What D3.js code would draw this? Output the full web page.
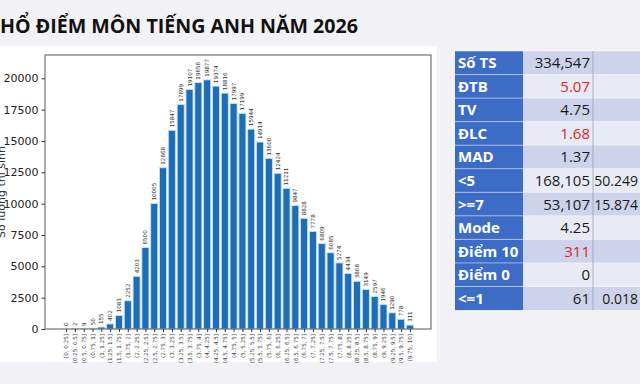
<!DOCTYPE html>
<html><head><meta charset="utf-8">
<script src="https://cdn.jsdelivr.net/npm/d3@7"></script>
<style>
html,body{margin:0;padding:0;background:#f2f1f5;}
svg{display:block;}
</style></head>
<body>
<svg id="c" width="640" height="384"></svg>
<script>
const titleText = "HỔ ĐIỂM MÔN TIẾNG ANH NĂM 2026";
const yLabel = "Số lượng thí sinh";
const bins = ["[0, 0.25]","(0.25, 0.5]","(0.5, 0.75]","(0.75, 1]","(1, 1.25]","(1.25, 1.5]","(1.5, 1.75]","(1.75, 2]","(2, 2.25]","(2.25, 2.5]","(2.5, 2.75]","(2.75, 3]","(3, 3.25]","(3.25, 3.5]","(3.5, 3.75]","(3.75, 4]","(4, 4.25]","(4.25, 4.5]","(4.5, 4.75]","(4.75, 5]","(5, 5.25]","(5.25, 5.5]","(5.5, 5.75]","(5.75, 6]","(6, 6.25]","(6.25, 6.5]","(6.5, 6.75]","(6.75, 7]","(7, 7.25]","(7.25, 7.5]","(7.5, 7.75]","(7.75, 8]","(8, 8.25]","(8.25, 8.5]","(8.5, 8.75]","(8.75, 9]","(9, 9.25]","(9.25, 9.5]","(9.5, 9.75]","(9.75, 10]"];
const counts = [0,2,9,50,155,402,1083,2252,4203,6500,10005,12868,15847,17899,19107,19656,19877,19374,18816,17997,17199,15944,14914,13600,12424,11211,9847,8828,7778,6809,6085,5274,4434,3808,3149,2597,1946,1290,778,311];
const yTicks = [0,2500,5000,7500,10000,12500,15000,17500,20000];
const tableLabels = ["Số TS","ĐTB","TV","ĐLC","MAD","<5",">=7","Mode","Điểm 10","Điểm 0","<=1"];
const tableValues = ["334,547","5.07","4.75","1.68","1.37","168,105","53,107","4.25","311","0","61"];
const tableExtra = ["","","","","","50.249","15.874","","","","0.018"];
const tableRed = [false,true,false,true,false,false,false,false,true,false,false];

const svg = d3.select("#c");
svg.append("rect").attr("x",0).attr("y",46).attr("width",437).attr("height",316).attr("fill","#ffffff");

const t = svg.append("text").attr("x",0).attr("y",33)
  .attr("font-family","Open Sans, sans-serif").attr("font-weight","bold")
  .attr("font-size",21).attr("fill","#111").text(titleText);
const tw = t.node().getComputedTextLength();
t.attr("font-size", 21*358/tw);

const L=45,R=431,T=55,B=329;
const x = d3.scaleLinear().domain([-2.39, bins.length-1+2.39]).range([L,R]);
const y = d3.scaleLinear().domain([0,21860]).range([B,T]);
const step = x(1)-x(0);
const bw = step*0.8;

const g = svg.append("g");
g.selectAll("rect.bar").data(counts).enter().append("rect")
  .attr("class","bar")
  .attr("x",(d,i)=>x(i)-bw/2).attr("width",bw)
  .attr("y",d=>y(d)).attr("height",d=>B-y(d))
  .attr("fill","#1f6db4").attr("stroke","#bfe2f6").attr("stroke-width",0.9);

g.selectAll("text.bl").data(counts).enter().append("text")
  .attr("class","bl")
  .attr("transform",(d,i)=>`translate(${x(i)+2},${y(d)-3}) rotate(-90)`)
  .attr("font-family","DejaVu Sans, sans-serif").attr("font-size",5.6)
  .attr("fill","#333").text(d=>d);

const ya = d3.axisLeft(y).tickValues(yTicks).tickSize(3.5).tickPadding(3).tickFormat(d3.format("d"));
const yg = svg.append("g").attr("transform",`translate(${L},0)`).call(ya);
yg.select(".domain").remove();
yg.selectAll("text").attr("font-family","DejaVu Sans, sans-serif").attr("font-size",11).attr("fill","#222");
yg.selectAll("line").attr("stroke","#333");

const xa = d3.axisBottom(x).tickValues(d3.range(bins.length)).tickSize(3).tickFormat(i=>bins[i]);
const xg = svg.append("g").attr("transform",`translate(0,${B})`).call(xa);
xg.select(".domain").remove();
xg.selectAll("line").attr("stroke","#333");
xg.selectAll("text").attr("font-family","DejaVu Sans, sans-serif").attr("font-size",5.6).attr("fill","#444")
  .attr("text-anchor","end").attr("dy","0.32em").attr("y",0)
  .attr("transform","translate(0,5) rotate(-90)").attr("x",0);

svg.append("rect").attr("x",L).attr("y",T).attr("width",R-L).attr("height",B-T)
  .attr("fill","none").attr("stroke","#444").attr("stroke-width",0.9);

svg.append("text").attr("transform","translate(5,192) rotate(-90)")
  .attr("text-anchor","middle").attr("font-family","DejaVu Sans, sans-serif")
  .attr("font-size",11).attr("fill","#333").text(yLabel);

const tx0=455, c1=523, c2=593, ty0=51, rh=23.55;
const tg = svg.append("g");
tableLabels.forEach((lab,i)=>{
  const yy = ty0+i*rh;
  const bg = i%2===0 ? "#ccd3ea" : "#e8eaf5";
  tg.append("rect").attr("x",c1).attr("y",yy).attr("width",640-c1).attr("height",rh).attr("fill",bg);
  tg.append("rect").attr("x",tx0).attr("y",yy).attr("width",c1-tx0).attr("height",rh).attr("fill","#3d6cc6");
  tg.append("line").attr("x1",tx0).attr("x2",640).attr("y1",yy).attr("y2",yy).attr("stroke","#ffffff").attr("stroke-opacity",0.6).attr("stroke-width",0.8);
  tg.append("text").attr("x",tx0+3).attr("y",yy+rh/2+5.5).attr("font-family","Open Sans, sans-serif")
    .attr("font-weight","bold").attr("font-size",15).attr("fill","#ffffff").text(lab);
  tg.append("text").attr("x",c2-3).attr("y",yy+rh/2+5.5).attr("text-anchor","end").attr("font-family","Open Sans, sans-serif")
    .attr("font-size",15).attr("fill",tableRed[i]?"#e0262b":"#1a1a1a").text(tableValues[i]);
  if(tableExtra[i]) tg.append("text").attr("x",638).attr("y",yy+rh/2+5.5).attr("text-anchor","end").attr("font-family","Open Sans, sans-serif")
    .attr("font-size",14).attr("fill","#1a1a1a").text(tableExtra[i]);
});
tg.append("line").attr("x1",c2).attr("x2",c2).attr("y1",ty0).attr("y2",ty0+11*rh).attr("stroke","#9aa3bd").attr("stroke-width",0.8);
</script>
</body></html>
